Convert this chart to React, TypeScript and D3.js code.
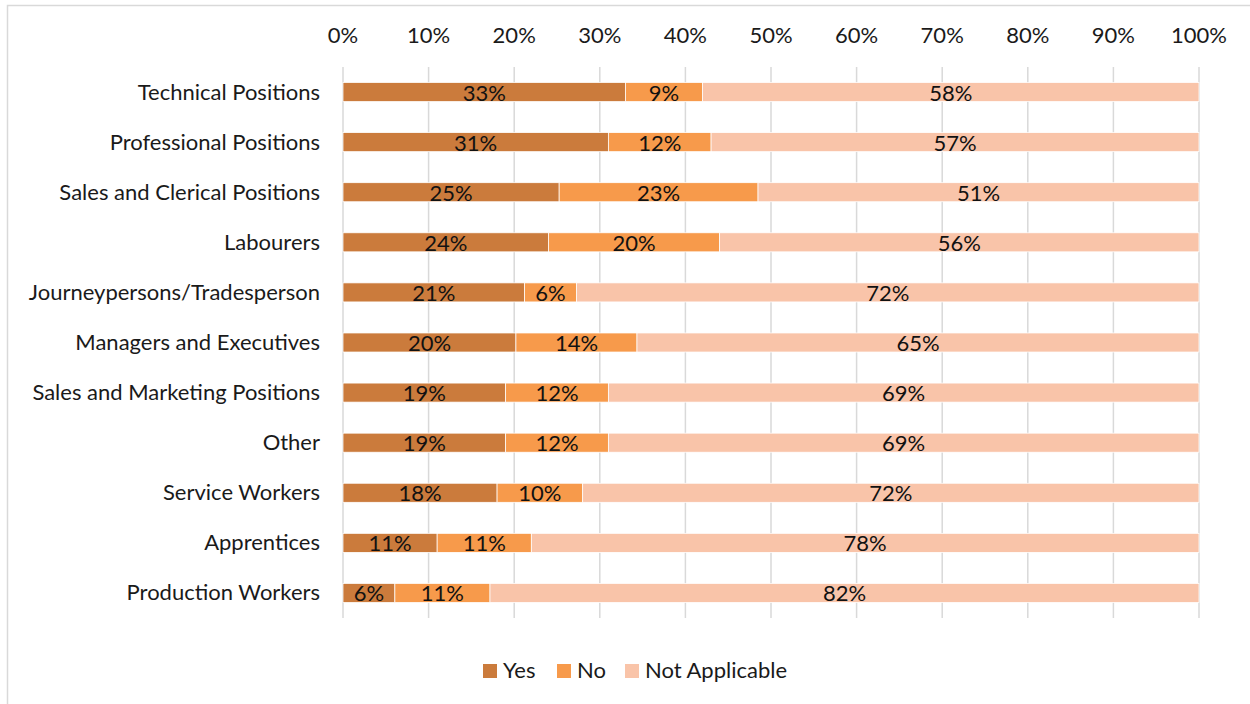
import React from "react";
import * as d3 from "d3";

const categories = [
  "Technical Positions",
  "Professional Positions",
  "Sales and Clerical Positions",
  "Labourers",
  "Journeypersons/Tradesperson",
  "Managers and Executives",
  "Sales and Marketing Positions",
  "Other",
  "Service Workers",
  "Apprentices",
  "Production Workers",
];
const yesValues = [33, 31, 25, 24, 21, 20, 19, 19, 18, 11, 6];
const noValues = [9, 12, 23, 20, 6, 14, 12, 12, 10, 11, 11];
const naValues = [58, 57, 51, 56, 72, 65, 69, 69, 72, 78, 82];
const seriesNames = ["Yes", "No", "Not Applicable"];
const seriesColors = ["#CB7B3C", "#F79A4B", "#F9C4A9"];
const tickValues = [0, 0.1, 0.2, 0.3, 0.4, 0.5, 0.6, 0.7, 0.8, 0.9, 1];

const W = 1250;
const H = 704;
const FONT = "Lato, 'Open Sans', sans-serif";

export default function App() {
  const rows = categories.map((c, i) => ({
    cat: c,
    Yes: yesValues[i],
    No: noValues[i],
    "Not Applicable": naValues[i],
  }));
  const stack = d3
    .stack<any>()
    .keys(seriesNames)
    .offset(d3.stackOffsetExpand);
  const layers = stack(rows);

  const x = d3.scaleLinear().domain([0, 1]).range([343, 1199]);
  const y = d3.scaleBand().domain(categories).range([67, 618]).paddingInner(0.62).paddingOuter(0.31);
  const fmt = d3.format(".0%");

  const legendX = [483, 557, 625];

  return (
    <svg
      width={W}
      height={H}
      style={{ position: "absolute", left: 0, top: 0, fontFamily: FONT }}
    >
      <rect x={0} y={0} width={W} height={H} fill="#fff" />
      <rect x={7.5} y={5.5} width={W + 10} height={H + 10} fill="none" stroke="#d9d9d9" strokeWidth={1.5} />
      {tickValues.map((t) => (
        <g key={t}>
          <line x1={x(t)} x2={x(t)} y1={67} y2={618} stroke="#d9d9d9" strokeWidth={1.5} />
          <text x={x(t)} y={43} textAnchor="middle" fontSize={22} fill="#1a1a1a">
            {fmt(t)}
          </text>
        </g>
      ))}
      {categories.map((c) => (
        <text
          key={c}
          x={320}
          y={(y(c) as number) + y.bandwidth() / 2 + 7.5}
          textAnchor="end"
          fontSize={22}
          fill="#1a1a1a"
        >
          {c}
        </text>
      ))}
      {layers.map((layer, li) => (
        <g key={layer.key}>
          {layer.map((d, i) => (
            <rect
              key={i}
              x={x(d[0])}
              y={y(categories[i])}
              width={x(d[1]) - x(d[0])}
              height={y.bandwidth()}
              fill={seriesColors[li]}
              stroke="#fff"
              strokeWidth={0.75}
            />
          ))}
          {layer.map((d, i) => (
            <text
              key={"t" + i}
              x={(x(d[0]) + x(d[1])) / 2}
              y={(y(categories[i]) as number) + y.bandwidth() / 2 + 8.5}
              textAnchor="middle"
              fontSize={22}
              fill="#111"
            >
              {(d.data as any)[layer.key] + "%"}
            </text>
          ))}
        </g>
      ))}
      {seriesNames.map((s, i) => (
        <g key={s}>
          <rect x={legendX[i]} y={664} width={14} height={14} fill={seriesColors[i]} />
          <text x={legendX[i] + 20} y={678} fontSize={22} fill="#1a1a1a">
            {s}
          </text>
        </g>
      ))}
    </svg>
  );
}
